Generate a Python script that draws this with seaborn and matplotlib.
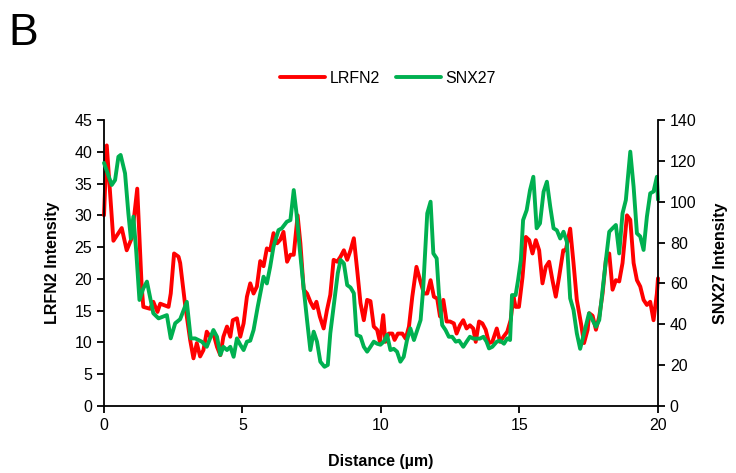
import matplotlib
matplotlib.use("Agg")
import matplotlib.pyplot as plt
import seaborn as sns
import pandas as pd

# ---- data ----
lrfn2_dist = [0.0, 0.10, 0.34, 0.64, 0.82, 1.00, 1.20, 1.36, 1.42, 1.66, 1.78, 1.93, 2.03, 2.21, 2.33, 2.41,
              2.53, 2.69, 2.75, 2.93, 3.11, 3.23, 3.35, 3.47, 3.59, 3.71, 3.83, 3.95, 4.08, 4.20, 4.31, 4.44,
              4.56, 4.65, 4.80, 4.92, 5.04, 5.16, 5.28, 5.40, 5.52, 5.64, 5.76, 5.88, 6.00, 6.12, 6.25, 6.37,
              6.48, 6.61, 6.73, 6.85, 6.99, 7.09, 7.21, 7.33, 7.45, 7.57, 7.67, 7.79, 7.93, 8.05, 8.17, 8.29,
              8.42, 8.54, 8.66, 8.78, 8.90, 9.02, 9.14, 9.26, 9.38, 9.50, 9.62, 9.74, 9.86, 9.96, 10.08, 10.16,
              10.28, 10.41, 10.49, 10.61, 10.77, 10.89, 11.01, 11.13, 11.28, 11.43, 11.55, 11.67, 11.79, 11.91,
              12.03, 12.13, 12.25, 12.37, 12.49, 12.63, 12.73, 12.85, 12.97, 13.09, 13.21, 13.33, 13.42, 13.54,
              13.66, 13.78, 13.90, 14.02, 14.18, 14.30, 14.44, 14.56, 14.68, 14.78, 14.86, 14.98, 15.11, 15.23,
              15.35, 15.47, 15.59, 15.71, 15.83, 15.95, 16.07, 16.19, 16.31, 16.43, 16.58, 16.67, 16.83, 16.95,
              17.07, 17.22, 17.33, 17.46, 17.52, 17.64, 17.76, 17.88, 18.00, 18.12, 18.24, 18.36, 18.48, 18.60,
              18.72, 18.88, 19.00, 19.12, 19.24, 19.36, 19.48, 19.60, 19.72, 19.84, 19.96, 20.0]
lrfn2_int = [30.0, 41.0, 26.0, 28.0, 24.5, 26.4, 34.2, 18.8, 15.6, 15.3, 16.4, 14.8, 16.1, 15.8, 15.6, 17.7,
             24.0, 23.5, 22.5, 15.9, 10.4, 7.5, 9.9, 7.8, 8.8, 11.7, 10.9, 11.4, 9.3, 8.0, 10.9, 12.5,
             10.9, 13.5, 13.8, 10.9, 13.0, 17.2, 19.3, 17.7, 18.8, 22.8, 22.0, 24.8, 24.5, 27.2, 25.6, 26.2,
             27.4, 22.7, 23.8, 23.8, 30.0, 25.6, 18.3, 17.7, 16.4, 15.4, 16.4, 14.1, 12.2, 15.1, 17.5, 23.0,
             22.7, 23.5, 24.5, 23.0, 24.5, 26.4, 21.4, 16.2, 13.5, 16.7, 16.5, 12.5, 12.0, 10.1, 14.3, 10.1,
             11.4, 11.4, 10.4, 11.4, 11.4, 10.6, 12.5, 17.2, 21.9, 19.5, 17.7, 17.7, 19.8, 17.2,
             16.9, 14.1, 16.7, 13.3, 13.3, 13.0, 11.4, 12.7, 13.5, 12.2, 12.7, 12.2, 10.1, 13.3,
             13.0, 12.0, 9.9, 10.1, 12.2, 10.1, 11.0, 11.7, 13.5, 17.2, 15.6, 15.6, 20.3, 26.6,
             26.1, 24.0, 26.1, 24.5, 19.3, 21.9, 22.7, 19.8, 17.2, 20.3, 24.5, 24.5, 27.9, 22.5,
             16.7, 13.0, 9.9, 12.0, 14.6, 14.2, 12.0, 14.1, 17.7, 23.0, 24.0, 18.3, 19.8, 19.6,
             22.5, 30.0, 29.3, 22.5, 19.8, 18.8, 16.7, 15.9, 16.4, 13.5, 17.7, 20.1]

snx27_dist = [0.0, 0.28, 0.40, 0.52, 0.60, 0.76, 0.88, 0.97, 1.06, 1.16, 1.28, 1.42, 1.55, 1.66, 1.78, 1.97,
              2.27, 2.41, 2.57, 2.75, 2.99, 3.13, 3.29, 3.53, 3.71, 3.95, 4.08, 4.20, 4.31, 4.44, 4.56, 4.68,
              4.80, 4.92, 5.04, 5.16, 5.28, 5.40, 5.55, 5.64, 5.76, 5.88, 6.00, 6.12, 6.30, 6.42, 6.60, 6.73,
              6.85, 6.95, 7.07, 7.19, 7.33, 7.45, 7.57, 7.69, 7.81, 7.96, 8.08, 8.17, 8.29, 8.44, 8.54, 8.66,
              8.78, 8.90, 9.02, 9.12, 9.26, 9.38, 9.50, 9.62, 9.74, 9.86, 9.98, 10.10, 10.22, 10.34, 10.46, 10.58,
              10.70, 10.82, 10.94, 11.06, 11.19, 11.31, 11.43, 11.52, 11.61, 11.67, 11.79, 11.89, 12.01, 12.09,
              12.21, 12.33, 12.45, 12.57, 12.70, 12.82, 12.97, 13.09, 13.21, 13.33, 13.45, 13.57, 13.70, 13.81,
              13.90, 14.02, 14.18, 14.30, 14.44, 14.56, 14.66, 14.73, 14.86, 14.95, 15.05, 15.13, 15.26, 15.38,
              15.50, 15.62, 15.74, 15.87, 15.99, 16.11, 16.23, 16.35, 16.47, 16.59, 16.71, 16.83, 16.95, 17.07,
              17.19, 17.33, 17.51, 17.64, 17.76, 17.88, 18.00, 18.12, 18.24, 18.36, 18.48, 18.60, 18.72, 18.84,
              19.00, 19.12, 19.24, 19.36, 19.48, 19.60, 19.72, 19.84, 19.96, 20.0]
snx27_int = [119.0, 108.2, 110.6, 122.0, 122.9, 113.9, 94.3, 82.0, 92.7, 76.4, 51.9, 57.6, 60.9, 53.5, 45.4, 42.9,
             44.5, 33.1, 40.5, 42.5, 51.0, 33.1, 33.1, 31.5, 29.0, 37.2, 33.9, 25.0, 29.0, 27.4, 29.0, 24.1,
             33.1, 30.0, 27.4, 31.5, 32.0, 37.2, 48.6, 55.0, 63.3, 60.0, 68.2, 78.0, 86.1, 87.0, 90.2, 91.0,
             105.7, 94.3, 76.4, 60.0, 42.1, 27.4, 36.4, 31.5, 21.7, 19.2, 20.1, 35.6, 48.6, 65.0, 71.5, 69.8,
             59.2, 58.0, 55.2, 34.8, 34.0, 29.0, 26.6, 29.0, 31.5, 30.5, 30.0, 31.5, 34.8, 27.4, 28.0, 26.6,
             21.7, 24.1, 32.3, 38.0, 32.3, 37.2, 42.1, 56.8, 79.6, 94.3, 100.0, 74.7, 72.3, 55.2,
             39.6, 37.2, 33.9, 33.9, 31.5, 32.0, 29.0, 31.5, 33.9, 33.0, 33.0, 33.0, 33.9, 31.5,
             28.2, 29.0, 31.5, 32.0, 30.5, 33.1, 32.3, 54.3, 54.3, 61.7, 71.5, 91.0, 95.9, 105.7,
             112.2, 87.0, 89.4, 104.9, 109.8, 97.6, 87.0, 86.0, 82.0, 85.3, 80.4, 52.7, 47.0, 35.6,
             28.0, 35.6, 45.4, 42.0, 38.8, 42.1, 56.8, 71.5, 85.3, 87.0, 88.6, 74.7, 94.3, 100.8,
             124.5, 107.3, 84.5, 83.0, 76.4, 92.7, 104.1, 105.0, 112.2, 101.0]

x_ticks = [0, 5, 10, 15, 20]
left_ticks = list(range(0, 46, 5))
right_ticks = list(range(0, 141, 20))

RED = "#FF0000"
GREEN = "#00B050"

sns.set_style("ticks")
plt.rcParams["font.family"] = ["Liberation Sans", "DejaVu Sans"]
plt.rcParams["text.color"] = "black"
plt.rcParams["axes.labelcolor"] = "black"
plt.rcParams["xtick.color"] = "black"
plt.rcParams["ytick.color"] = "black"

df_l = pd.DataFrame({"Distance": lrfn2_dist, "Intensity": lrfn2_int})
df_s = pd.DataFrame({"Distance": snx27_dist, "Intensity": snx27_int})

fig = plt.figure(figsize=(7.36, 4.73), dpi=100)
ax = fig.add_axes([0.1413, 0.1416, 0.7527, 0.6047])
ax2 = ax.twinx()

sns.lineplot(data=df_l, x="Distance", y="Intensity", ax=ax, color=RED, lw=2.8,
             label="LRFN2", legend=False, sort=False, clip_on=False)
sns.lineplot(data=df_s, x="Distance", y="Intensity", ax=ax2, color=GREEN, lw=2.8,
             label="SNX27", legend=False, sort=False, clip_on=False)

ax.set_xlim(0, 20)
ax.set_ylim(0, 45)
ax2.set_ylim(0, 140)
ax.set_xticks(x_ticks)
ax.set_yticks(left_ticks)
ax2.set_yticks(right_ticks)

for a in (ax, ax2):
    a.spines["top"].set_visible(False)
    for s in ("left", "right", "bottom"):
        a.spines[s].set_linewidth(1.3)
        a.spines[s].set_color("black")
    a.tick_params(axis="both", labelsize=11.5, width=1.3, length=5, color="black",
                  labelcolor="black", direction="out")
ax.spines["right"].set_visible(False)
ax2.spines["left"].set_visible(False)
ax2.spines["bottom"].set_visible(False)

ax.set_xlabel("Distance (µm)", fontsize=11.5, fontweight="bold", labelpad=15, color="black")
ax.set_ylabel("LRFN2 Intensity", fontsize=11.5, fontweight="bold", labelpad=10, color="black")
ax2.set_ylabel("SNX27 Intensity", fontsize=11.5, fontweight="bold", labelpad=12, color="black")

h1, l1 = ax.get_legend_handles_labels()
h2, l2 = ax2.get_legend_handles_labels()
fig.legend(h1 + h2, l1 + l2, loc="center", bbox_to_anchor=(0.527, 0.835), ncol=2,
           frameon=False, fontsize=11.5, handlelength=2.8, columnspacing=1.0, handletextpad=0.3)

fig.text(0.012, 0.93, "B", fontsize=32, ha="left", va="center", color="black")

fig.savefig("out.png", dpi=100)
